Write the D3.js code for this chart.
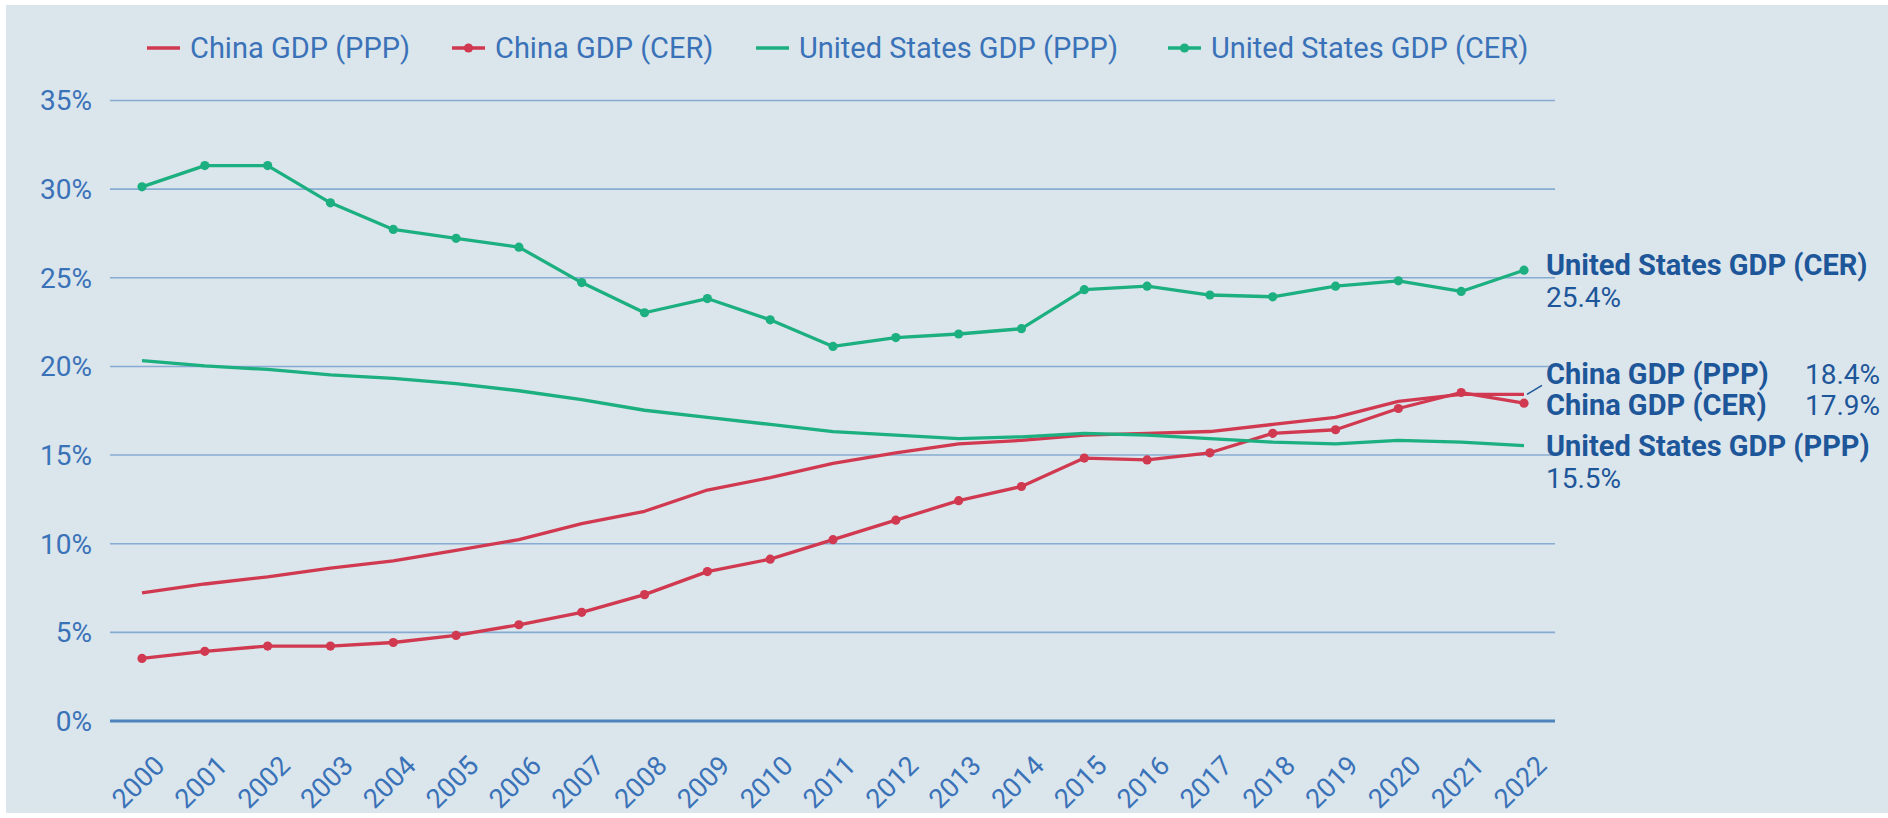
<!DOCTYPE html>
<html><head><meta charset="utf-8">
<script src="https://cdn.jsdelivr.net/npm/d3@7"></script>
<style>
html,body{margin:0;padding:0;background:#fff;}
svg{display:block;}
text{font-family:Roboto,"Noto Sans",sans-serif;}
</style></head>
<body><svg id="c" width="1888" height="818"></svg>
<script>
const years = [2000,2001,2002,2003,2004,2005,2006,2007,2008,2009,2010,2011,2012,2013,2014,2015,2016,2017,2018,2019,2020,2021,2022];
const chinaPPP = [7.2,7.7,8.1,8.6,9.0,9.6,10.2,11.1,11.8,13.0,13.7,14.5,15.1,15.6,15.8,16.1,16.2,16.3,16.7,17.1,18.0,18.4,18.4];
const chinaCER = [3.5,3.9,4.2,4.2,4.4,4.8,5.4,6.1,7.1,8.4,9.1,10.2,11.3,12.4,13.2,14.8,14.7,15.1,16.2,16.4,17.6,18.5,17.9];
const usPPP = [20.3,20.0,19.8,19.5,19.3,19.0,18.6,18.1,17.5,17.1,16.7,16.3,16.1,15.9,16.0,16.2,16.1,15.9,15.7,15.6,15.8,15.7,15.5];
const usCER = [30.1,31.3,31.3,29.2,27.7,27.2,26.7,24.7,23.0,23.8,22.6,21.1,21.6,21.8,22.1,24.3,24.5,24.0,23.9,24.5,24.8,24.2,25.4];
const yTicks = [0,5,10,15,20,25,30,35];
const seriesNames = ["China GDP (PPP)","China GDP (CER)","United States GDP (PPP)","United States GDP (CER)"];
const endValueLabels = ["18.4%","17.9%","15.5%","25.4%"];

const RED = "#d0394f", GREEN = "#1caf80";
const TXT = "#3a72b8", BOLD = "#1d5699";

const series = [
  {name: seriesNames[0], values: chinaPPP, color: RED, dots: false},
  {name: seriesNames[1], values: chinaCER, color: RED, dots: true},
  {name: seriesNames[2], values: usPPP, color: GREEN, dots: false},
  {name: seriesNames[3], values: usCER, color: GREEN, dots: true}
];

const svg = d3.select("#c");
svg.append("rect").attr("x",6).attr("y",5).attr("width",1882).attr("height",808).attr("fill","#dbe5ec");

const x = d3.scalePoint().domain(years).range([142,1524]);
const y = d3.scaleLinear().domain([0,35]).range([720.5,100]);

// grid + y axis
const yAxis = d3.axisLeft(y).tickValues(yTicks).tickFormat(d=>d+"%").tickSize(-(1555-110)).tickPadding(18);
const gy = svg.append("g").attr("transform","translate(110,0)").call(yAxis);
gy.select(".domain").remove();
gy.selectAll(".tick line").attr("stroke","#86acd2").attr("stroke-width",1.6);
gy.selectAll(".tick").filter(d=>d===0).select("line").attr("stroke","#4f83bb").attr("stroke-width",3);
gy.selectAll(".tick text").attr("fill",TXT).attr("font-size",28).attr("dy","0.35em");

// x axis
const xAxis = d3.axisBottom(x).tickSize(0).tickPadding(0);
const gx = svg.append("g").attr("transform","translate(0,720.5)").call(xAxis);
gx.select(".domain").remove();
gx.selectAll(".tick text")
  .attr("fill",TXT).attr("font-size",27)
  .attr("text-anchor","end")
  .attr("transform","translate(17,40) rotate(-45)")
  .attr("dy","0.35em").attr("y",0);

// lines
const line = d3.line().x((d,i)=>x(years[i])).y(d=>y(d));
series.forEach(s=>{
  svg.append("path").datum(s.values).attr("d",line)
    .attr("fill","none").attr("stroke",s.color).attr("stroke-width",3.3)
    .attr("stroke-linejoin","round");
  if(s.dots){
    svg.append("g").selectAll("circle").data(s.values).join("circle")
      .attr("cx",(d,i)=>x(years[i])).attr("cy",d=>y(d)).attr("r",4.6).attr("fill",s.color);
  }
});

// legend
const legX = [147,452,756,1168];
const legY = 48;
series.forEach((s,i)=>{
  const g = svg.append("g").attr("transform",`translate(${legX[i]},${legY})`);
  g.append("line").attr("x1",0).attr("x2",33).attr("y1",0).attr("y2",0)
    .attr("stroke",s.color).attr("stroke-width",3.3);
  if(s.dots) g.append("circle").attr("cx",16.5).attr("cy",0).attr("r",4.6).attr("fill",s.color);
  g.append("text").attr("x",43).attr("y",0).attr("dy","0.35em")
    .attr("fill",TXT).attr("font-size",29).text(s.name);
});

// end labels
const last = years.length-1;
const lx = 1546;
const ends = [
  {s:0, dy:-10, valInline:true},
  {s:1, dy:12, valInline:true},
  {s:2, dy:10, valInline:false},
  {s:3, dy:5, valInline:false}
];
ends.forEach(e=>{
  const s = series[e.s];
  const yy = y(s.values[last]) + e.dy;
  svg.append("text").attr("x",lx).attr("y",yy).attr("fill",BOLD)
    .attr("font-size",29).attr("font-weight","bold").text(s.name);
  if(e.valInline){
    svg.append("text").attr("x",1805).attr("y",yy).attr("fill",BOLD)
      .attr("font-size",28).text(endValueLabels[e.s]);
  } else {
    svg.append("text").attr("x",lx).attr("y",yy+32).attr("fill",BOLD)
      .attr("font-size",28).text(endValueLabels[e.s]);
  }
});
// leader line for China PPP
svg.append("line")
  .attr("x1",x(years[last])+3).attr("y1",y(chinaPPP[last]))
  .attr("x2",lx-4).attr("y2",y(chinaPPP[last])-9)
  .attr("stroke",BOLD).attr("stroke-width",1.5);
</script></body></html>
